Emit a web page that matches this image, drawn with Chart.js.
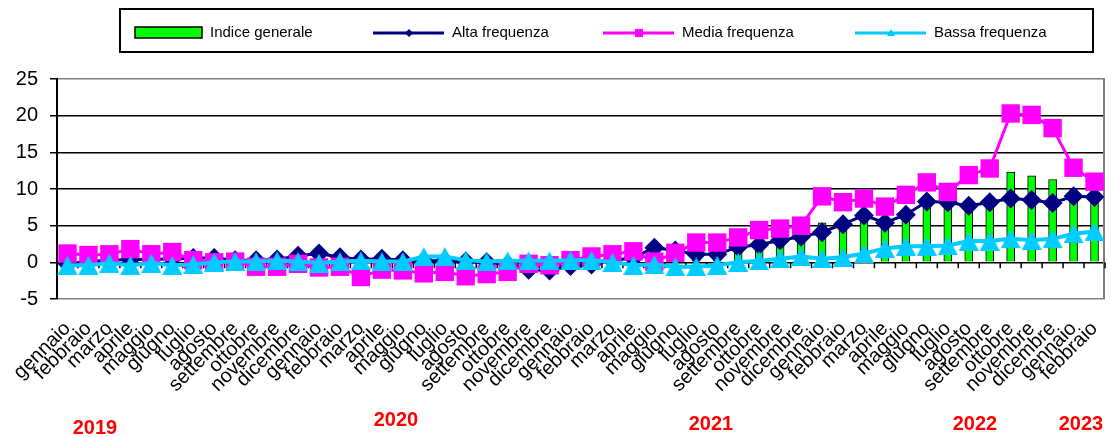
<!DOCTYPE html>
<html>
<head>
<meta charset="utf-8">
<script src="https://cdn.jsdelivr.net/npm/chart.js@4.4.1/dist/chart.umd.min.js"></script>
<style>
  html, body { margin: 0; padding: 0; background: #fff; }
  #wrap { position: relative; width: 1118px; height: 437px; }
  .year {
    position: absolute;
    color: #ff0000;
    font: bold 20px 'Liberation Sans', Arial, sans-serif;
    transform: translate(-50%, -50%);
  }
</style>
</head>
<body>
<div id="wrap">
  <canvas id="chart" width="1118" height="437"></canvas>
  <div class="year" style="left:95px; top:427px">2019</div>
  <div class="year" style="left:396px; top:419px">2020</div>
  <div class="year" style="left:711px; top:423px">2021</div>
  <div class="year" style="left:975px; top:423px">2022</div>
  <div class="year" style="left:1081px; top:423px">2023</div>
</div>
<script>
const mesi2019 = ['gennaio', 'febbraio', 'marzo', 'aprile', 'maggio', 'giugno', 'luglio', 'agosto', 'settembre', 'ottobre', 'novembre', 'dicembre'];
const mesi2020 = ['gennaio', 'febbraio', 'marzo', 'aprile', 'maggio', 'giugno', 'luglio', 'agosto', 'settembre', 'ottobre', 'novembre', 'dicembre'];
const mesi2021 = ['gennaio', 'febbraio', 'marzo', 'aprile', 'maggio', 'giugno', 'luglio', 'agosto', 'settembre', 'ottobre', 'novembre', 'dicembre'];
const mesi2022 = ['gennaio', 'febbraio', 'marzo', 'aprile', 'maggio', 'giugno', 'luglio', 'agosto', 'settembre', 'ottobre', 'novembre', 'dicembre'];
const mesi2023 = ['gennaio', 'febbraio'];
const labels = [...mesi2019, ...mesi2020, ...mesi2021, ...mesi2022, ...mesi2023];

const indiceGenerale = [
  0.4, 0.3, 0.5, 0.7, 0.5, 0.6, 0.3, 0.2, 0.2, -0.1, -0.1, 0.3,
  0.4, 0.2, -0.4, -0.2, -0.3, -0.3, -0.2, -0.4, -0.4, -0.4, -0.4, -0.5,
  -0.1, 0.2, 0.5, 0.7, 0.9, 1.0, 1.2, 1.3, 2.2, 2.6, 3.1, 3.5,
  5.4, 5.4, 6.6, 6.0, 6.8, 8.5, 8.4, 8.3, 8.7, 12.3, 11.8, 11.3,
  9.9, 9.0
];
const altaFrequenza = [
  -0.2, 0.1, 0.3, 0.4, 0.4, 0.5, 0.6, 0.6, 0.3, 0.3, 0.4, 0.9,
  1.2, 0.7, 0.4, 0.5, 0.3, 0.2, 0.2, 0.1, 0.0, -0.3, -1.0, -1.1,
  -0.5, -0.3, 0.3, 0.6, 2.0, 1.6, 1.1, 1.1, 2.1, 2.4, 3.0, 3.5,
  4.1, 5.2, 6.4, 5.4, 6.5, 8.3, 8.2, 7.7, 8.2, 8.7, 8.5, 8.1,
  9.0, 8.9
];
const mediaFrequenza = [
  1.2, 1.0, 1.1, 1.8, 1.1, 1.4, 0.3, 0.0, 0.1, -0.6, -0.6, -0.2,
  -0.7, -0.6, -2.0, -1.0, -1.1, -1.5, -1.3, -1.9, -1.6, -1.3, -0.2, -0.4,
  0.3, 0.8, 1.1, 1.5, 0.1, 1.3, 2.7, 2.7, 3.4, 4.4, 4.6, 5.0,
  9.0, 8.2, 8.7, 7.6, 9.2, 10.9, 9.6, 11.9, 12.8, 20.3, 20.1, 18.3,
  12.9, 11.0
];
const bassaFrequenza = [
  -0.4, -0.4, -0.1, -0.4, -0.1, -0.4, -0.3, 0.0, 0.1, 0.1, 0.2, 0.1,
  -0.1, 0.1, 0.2, 0.1, 0.1, 0.8, 0.8, 0.3, 0.1, 0.2, 0.2, 0.2,
  0.3, 0.3, 0.0, -0.4, -0.3, -0.6, -0.6, -0.4, 0.0, 0.2, 0.5, 0.8,
  0.5, 0.7, 1.2, 1.9, 2.2, 2.2, 2.3, 2.9, 2.9, 3.2, 3.0, 3.2,
  3.9, 4.2
];
const yTicks = [-5, 0, 5, 10, 15, 20, 25];

const FONT = "'Liberation Sans', Arial, sans-serif";

// Excel-like triangle marker: centred on the point (bounding box centre)
function triangleMarker(w, h, color) {
  const c = document.createElement('canvas');
  c.width = w; c.height = h;
  const g = c.getContext('2d');
  g.fillStyle = color;
  g.beginPath();
  g.moveTo(w / 2, 0);
  g.lineTo(w, h);
  g.lineTo(0, h);
  g.closePath();
  g.fill();
  return c;
}

// grey frame on the right and the small category ticks on the zero axis
const framePlugin = {
  id: 'framePlugin',
  beforeDatasetsDraw(chart) {
    const { ctx, chartArea: a, scales: { x, y } } = chart;
    ctx.save();
    ctx.strokeStyle = '#808080';
    ctx.lineWidth = 2;
    ctx.beginPath();
    ctx.moveTo(a.right - 1, a.top);
    ctx.lineTo(a.right - 1, a.bottom);
    ctx.stroke();

    const y0 = y.getPixelForValue(0);
    ctx.strokeStyle = '#000';
    ctx.lineWidth = 1.5;
    ctx.beginPath();
    for (let i = 0; i <= labels.length; i++) {
      const px = x.getPixelForValue(i - 0.5);
      ctx.moveTo(px, y0);
      ctx.lineTo(px, y0 + 6);
    }
    ctx.stroke();
    ctx.restore();
  }
};

// boxed legend at the top, like the original
const legendPlugin = {
  id: 'legendPlugin',
  afterDraw(chart) {
    const ctx = chart.ctx;
    const ds = chart.data.datasets;
    const cy = 33;
    ctx.save();
    ctx.strokeStyle = '#000';
    ctx.lineWidth = 2;
    ctx.strokeRect(120, 9, 973, 43);

    ctx.font = '15px ' + FONT;
    ctx.fillStyle = '#000';
    ctx.textBaseline = 'middle';

    // bar entry
    ctx.fillStyle = ds[0].backgroundColor;
    ctx.fillRect(135, 27, 67, 11);
    ctx.strokeStyle = '#000';
    ctx.lineWidth = 1.5;
    ctx.strokeRect(135, 27, 67, 11);
    ctx.fillStyle = '#000';
    ctx.fillText(ds[0].label, 210, cy);

    const items = [
      { d: ds[1], x: 373, shape: 'diamond' },
      { d: ds[2], x: 603, shape: 'square' },
      { d: ds[3], x: 855, shape: 'triangle' }
    ];
    items.forEach(it => {
      const col = it.d.borderColor;
      ctx.strokeStyle = col;
      ctx.fillStyle = col;
      ctx.lineWidth = 3;
      ctx.beginPath();
      ctx.moveTo(it.x, cy);
      ctx.lineTo(it.x + 71, cy);
      ctx.stroke();
      const mx = it.x + 36;
      ctx.beginPath();
      if (it.shape === 'diamond') {
        ctx.moveTo(mx, cy - 4); ctx.lineTo(mx + 4, cy); ctx.lineTo(mx, cy + 4); ctx.lineTo(mx - 4, cy);
      } else if (it.shape === 'square') {
        ctx.rect(mx - 4, cy - 4, 8, 8);
      } else {
        ctx.moveTo(mx, cy - 4); ctx.lineTo(mx + 4, cy + 3); ctx.lineTo(mx - 4, cy + 3);
      }
      ctx.closePath();
      ctx.fill();
      ctx.fillStyle = '#000';
      ctx.fillText(it.d.label, it.x + 79, cy);
    });
    ctx.restore();
  }
};

new Chart(document.getElementById('chart').getContext('2d'), {
  data: {
    labels: labels,
    datasets: [
      {
        type: 'bar',
        label: 'Indice generale',
        data: indiceGenerale,
        backgroundColor: '#00ff00',
        borderColor: '#000',
        borderWidth: 1,
        barThickness: 8,
        order: 4
      },
      {
        type: 'line',
        label: 'Alta frequenza',
        data: altaFrequenza,
        borderColor: '#000080',
        backgroundColor: '#000080',
        borderWidth: 3,
        pointStyle: 'rectRot',
        pointRadius: 10,
        pointBorderWidth: 0,
        tension: 0,
        order: 3
      },
      {
        type: 'line',
        label: 'Media frequenza',
        data: mediaFrequenza,
        borderColor: '#ff00ff',
        backgroundColor: '#ff00ff',
        borderWidth: 3,
        pointStyle: 'rect',
        pointRadius: 13,
        pointBorderWidth: 0,
        tension: 0,
        order: 2
      },
      {
        type: 'line',
        label: 'Bassa frequenza',
        data: bassaFrequenza,
        borderColor: '#00ccff',
        backgroundColor: '#00ccff',
        borderWidth: 4,
        pointStyle: triangleMarker(20, 19, '#00ccff'),
        pointRadius: 10,
        pointBorderWidth: 0,
        tension: 0,
        order: 1
      }
    ]
  },
  options: {
    responsive: false,
    animation: false,
    layout: { padding: { top: 79, right: 1, left: 0, bottom: 0 } },
    plugins: {
      legend: { display: false },
      tooltip: { enabled: false }
    },
    scales: {
      x: {
        offset: true,
        grid: { display: false, drawTicks: false },
        border: { display: false },
        ticks: {
          autoSkip: false,
          maxRotation: 45,
          minRotation: 45,
          color: '#000',
          padding: 18,
          font: { family: FONT, size: 20 }
        },
        afterFit: s => {
          s.height = 138;
          s.paddingLeft = 0;
          s.paddingRight = 0;
        }
      },
      y: {
        min: -5,
        max: 25,
        afterBuildTicks: s => { s.ticks = yTicks.map(v => ({ value: v })); },
        grid: {
          color: c => (c.tick && (c.tick.value === 25 || c.tick.value === -5)) ? '#808080' : '#000',
          lineWidth: 1.5,
          tickColor: '#000',
          tickLength: 7
        },
        border: { display: true, color: '#000', width: 2 },
        ticks: {
          color: '#000',
          padding: 12,
          font: { family: FONT, size: 20 }
        },
        afterFit: s => { s.width = 57; }
      }
    }
  },
  plugins: [framePlugin, legendPlugin]
});
</script>
</body>
</html>
